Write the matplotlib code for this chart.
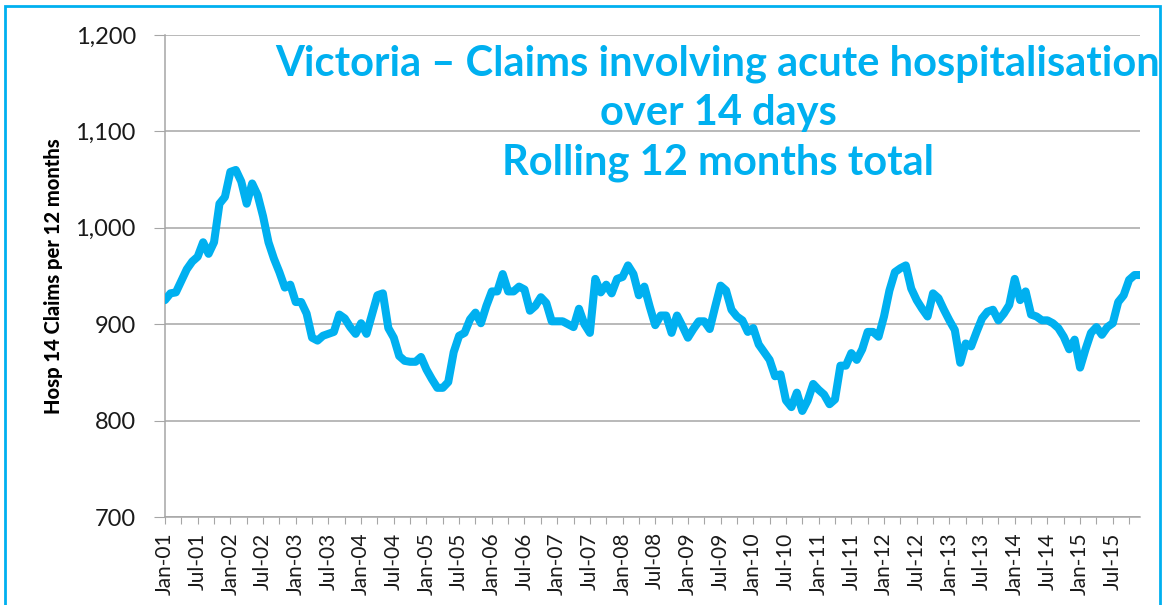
import matplotlib
matplotlib.use("Agg")
import matplotlib.pyplot as plt
from matplotlib.patches import Rectangle
import pandas as pd

# monthly rolling 12-month totals, Jan-01 .. Dec-15
claims = [
    925, 932, 933, 945, 957, 965, 970, 985, 973, 985, 1025, 1032,
    1058, 1060, 1048, 1025, 1046, 1034, 1012, 985, 968, 954, 938, 941,
    923, 923, 911, 886, 883, 888, 890, 892, 910, 906, 897, 890,
    901, 890, 910, 930, 932, 896, 886, 867, 862, 861, 861, 866,
    853, 843, 834, 834, 840, 871, 888, 891, 905, 912, 901, 919,
    934, 934, 952, 934, 934, 939, 936, 914, 919, 928, 922, 903,
    903, 903, 900, 897, 916, 900, 891, 947, 933, 941, 932, 947,
    949, 961, 952, 930, 939, 918, 899, 909, 909, 891, 909, 898,
    886, 895, 903, 903, 895, 918, 940, 935, 915, 908, 904, 892,
    896, 879, 871, 863, 846, 848, 821, 814, 829, 810, 821, 838,
    832, 827, 817, 822, 857, 857, 870, 863, 874, 892, 892, 887,
    908, 935, 954, 958, 961, 937, 925, 916, 908, 932, 927, 915,
    904, 894, 860, 880, 877, 892, 906, 913, 915, 904, 911, 920,
    947, 925, 934, 910, 908, 904, 904, 901, 896, 887, 874, 884,
    855, 874, 891, 897, 889, 897, 901, 923, 930, 946, 951, 951,
]
months = pd.date_range("2001-01-01", periods=len(claims), freq="MS").strftime("%b-%y").tolist()
y_ticks = [700, 800, 900, 1000, 1100, 1200]

title = "Victoria \u2013 Claims involving acute hospitalisation\nover 14 days\nRolling 12 months total"
y_label = "Hosp 14 Claims per 12 months"

BLUE = "#00B0F0"
GRID = "#A6A6A6"

plt.rcParams["font.family"] = ["Lato", "DejaVu Sans"]

W, H = 1164, 605
fig = plt.figure(figsize=(W / 100, H / 100), dpi=100)
ax = fig.add_axes([165 / W, 1 - 517 / H, (1140 - 165) / W, (517 - 35) / H])

x = list(range(len(claims)))
ax.plot(x, claims, color=BLUE, lw=5.8, solid_joinstyle="round", solid_capstyle="round", zorder=3)

ax.set_xlim(0, len(claims) - 1)
ax.set_ylim(700, 1200)
ax.set_yticks(y_ticks)
ax.set_yticklabels([f"{v:,}" for v in y_ticks], fontsize=17, color="#1a1a1a")
ax.grid(axis="y", color=GRID, lw=1.1)
ax.set_axisbelow(True)

tick_pos = list(range(0, len(claims), 3))
tick_lab = [months[i] if i % 6 == 0 else "" for i in tick_pos]
ax.set_xticks(tick_pos)
ax.set_xticklabels(tick_lab, rotation=90, fontsize=15, color="#1a1a1a")
ax.tick_params(axis="x", length=5, color=GRID, pad=6)
ax.tick_params(axis="y", length=8, color=GRID, pad=13)

for s in ["top", "right"]:
    ax.spines[s].set_visible(False)
for s in ["left", "bottom"]:
    ax.spines[s].set_color(GRID)
    ax.spines[s].set_linewidth(1.1)

ax.set_ylabel(y_label, fontsize=14.5, fontweight="black", labelpad=9)

fig.text(718 / W, 1 - 113 / H, title, ha="center", va="center", fontsize=30,
         fontweight="bold", color=BLUE, linespacing=1.36)

fig.patches.append(Rectangle((5 / W, -0.02), (1160 - 5) / W, 1.02 - 6 / H,
                             transform=fig.transFigure, fill=False,
                             edgecolor=BLUE, lw=2))

fig.savefig("out.png", dpi=100)
